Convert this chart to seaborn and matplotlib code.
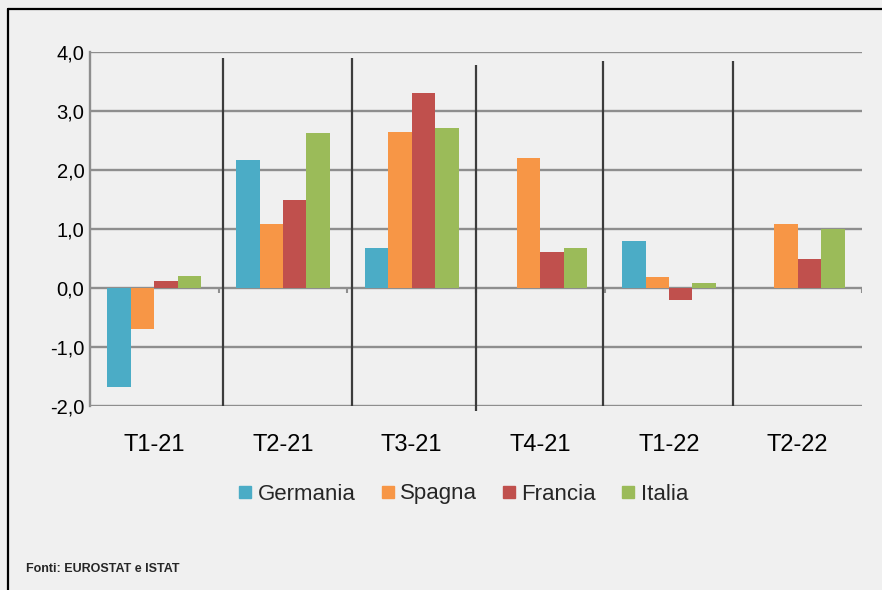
import matplotlib
matplotlib.use("Agg")
import matplotlib.pyplot as plt
import seaborn as sns
import pandas as pd
from matplotlib.lines import Line2D
from matplotlib.ticker import FuncFormatter, MultipleLocator

# dati (variazioni %)
trimestri = ["T1-21", "T2-21", "T3-21", "T4-21", "T1-22", "T2-22"]
paesi = ["Germania", "Spagna", "Francia", "Italia"]
germania = [-1.68, 2.17, 0.67, 0.0, 0.79, 0.0]
spagna = [-0.70, 1.09, 2.64, 2.20, 0.19, 1.09]
francia = [0.12, 1.50, 3.31, 0.61, -0.20, 0.49]
italia = [0.20, 2.62, 2.72, 0.67, 0.08, 1.00]
fonte = "Fonti: EUROSTAT e ISTAT"

colori = ["#4bacc6", "#f79646", "#c0504d", "#9bbb59"]

df = pd.DataFrame({
    "trimestre": trimestri * 4,
    "paese": sum([[p] * len(trimestri) for p in paesi], []),
    "valore": germania + spagna + francia + italia,
})

sns.set_style("white")
plt.rcParams["font.family"] = ["Liberation Sans Narrow", "Liberation Sans", "DejaVu Sans"]

bg = "#f0f0f0"
fig = plt.figure(figsize=(8.82, 5.90), dpi=100, facecolor=bg)
ax = fig.add_axes([90 / 882, 1 - 406 / 590, 772 / 882, 354 / 590])
ax.set_facecolor(bg)

sns.barplot(data=df, x="trimestre", y="valore", hue="paese", order=trimestri,
            hue_order=paesi, palette=colori, saturation=1, width=0.73,
            linewidth=0, ax=ax, legend=False, zorder=3)

ax.set_xlim(-0.5, len(trimestri) - 0.5)
ax.set_ylim(-2, 4)
ax.yaxis.set_major_locator(MultipleLocator(1))
ax.yaxis.set_major_formatter(FuncFormatter(lambda v, p: f"{v:.1f}".replace(".", ",")))
ax.grid(axis="y", color="#8e8e8e", lw=1.7, zorder=1)
ax.set_axisbelow(True)
ax.set_xlabel("")
ax.set_ylabel("")

for s in ["top", "right", "bottom"]:
    ax.spines[s].set_visible(False)
ax.spines["left"].set_color("#8e8e8e")
ax.spines["left"].set_linewidth(1.7)

ax.tick_params(axis="y", length=0, pad=4, labelsize=14.5, colors="black")
ax.tick_params(axis="x", length=0, pad=20, labelsize=17, colors="black")

# tacche sull'asse dello zero ai confini delle categorie
confini = [i + 0.5 for i in range(len(trimestri))]
ax.vlines(confini, -0.085, 0, color="#8e8e8e", lw=1.5, zorder=2)

# linee verticali scure di separazione
scarti = [0.03, 0.036, 0.0, -0.013, 0.0]
cime = [3.89, 3.89, 3.78, 3.84, 3.84]
basi = [-2.0, -2.0, -2.09, -2.0, -2.0]
for c, dx, y1, y0 in zip(confini[:-1], scarti, cime, basi):
    ax.plot([c + dx, c + dx], [y0, y1], color="#3c3c3c", lw=1.6, zorder=4,
            clip_on=False, solid_capstyle="butt")

# legenda
handles = [Line2D([], [], marker="s", ls="none", markersize=8, color=c) for c in colori]
fig.legend(handles, paesi, loc="center", bbox_to_anchor=(0.526, 1 - 494 / 590),
           ncol=4, frameon=False, fontsize=16, handlelength=0.5,
           handletextpad=0.3, columnspacing=1.2, borderaxespad=0)

# cornice
fig.add_artist(Line2D([8 / 882, 1], [1 - 9 / 590, 1 - 9 / 590], color="black", lw=1.6,
                      transform=fig.transFigure))
fig.add_artist(Line2D([8 / 882, 8 / 882], [0, 1 - 9 / 590], color="black", lw=1.6,
                      transform=fig.transFigure))

fig.text(26 / 882, 1 - 572 / 590, fonte, fontsize=9, fontweight="bold", ha="left",
         va="baseline")

fig.savefig("out.png", dpi=100, facecolor=bg)
